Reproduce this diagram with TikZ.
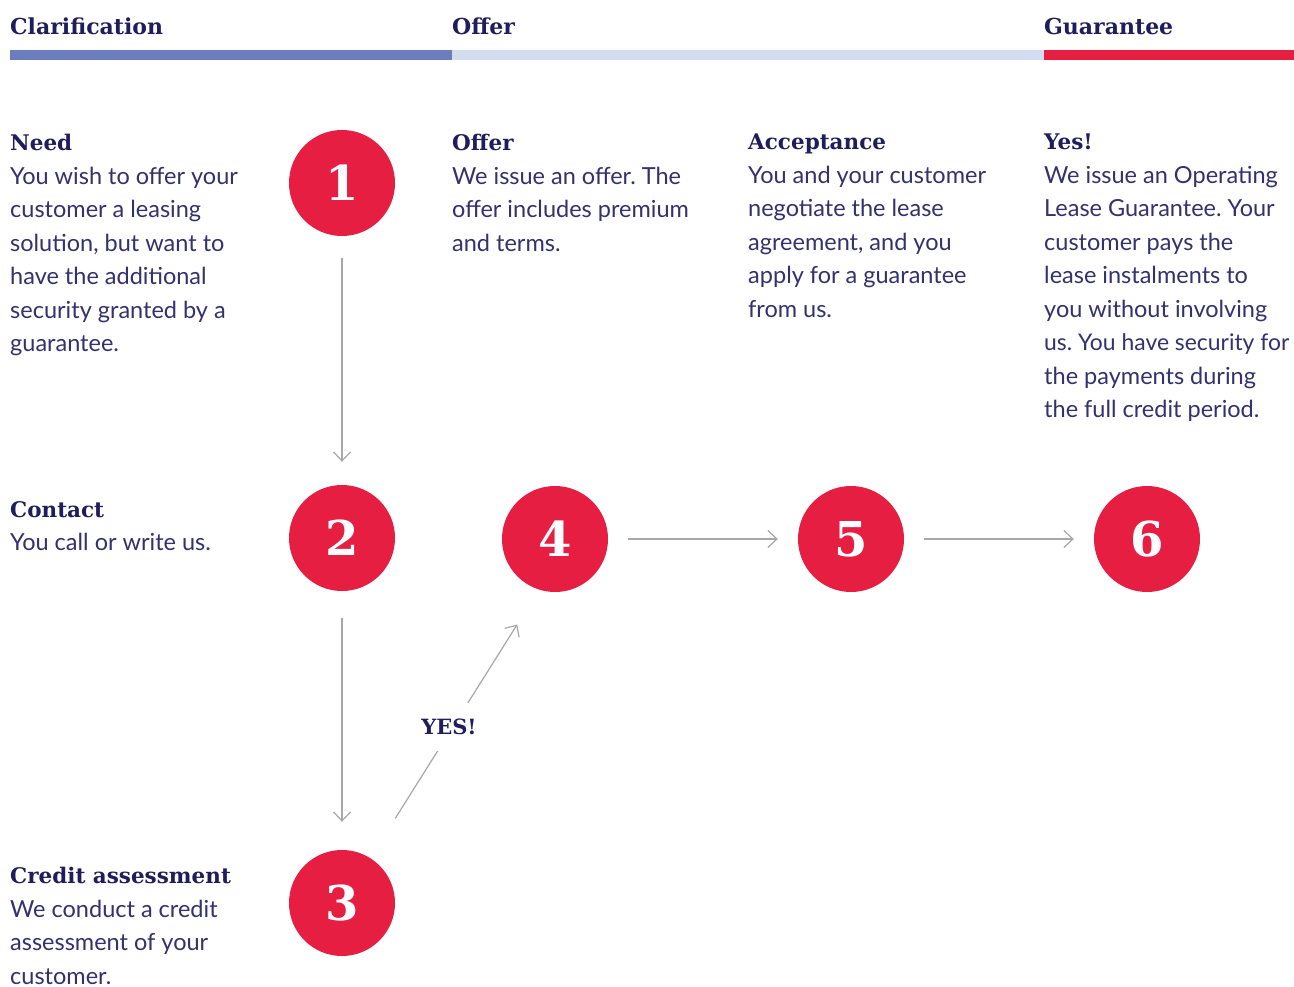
\documentclass[tikz,border=0pt]{standalone}
\usepackage{fontspec}
\usetikzlibrary{arrows.meta}
\newfontfamily\headfont{DejaVu Serif}
\newfontfamily\bodyfont{Lato}
\definecolor{navy}{HTML}{1F1D5C}
\definecolor{bodyblue}{HTML}{34316F}
\definecolor{stepred}{HTML}{E61E42}
\definecolor{barblue}{HTML}{6A7DBD}
\definecolor{barlight}{HTML}{D3DDF0}
\definecolor{linegray}{HTML}{A8A8A8}
\newcommand\blockhead[1]{{\headfont\bfseries\fontsize{21.5}{33.5}\selectfont\color{navy}#1}}
\newcommand\snug[1]{{\fontsize{22.9}{33.5}\selectfont#1}}

\begin{document}
\frenchspacing
\begin{tikzpicture}[x=1pt,y=-1pt,
  phase/.style={anchor=base west, inner sep=0, text=navy,
    font=\headfont\bfseries\fontsize{22}{26}\selectfont},
  block/.style={anchor=north west, inner sep=0, align=left, text=bodyblue,
    font=\bodyfont\fontsize{23.5}{33.5}\selectfont\frenchspacing},
  stepnum/.style={circle, fill=stepred, minimum size=106pt, inner sep=0,
    text=white, font=\headfont\bfseries\fontsize{48}{50}\selectfont},
  flow/.style={draw=linegray, line width=1.2pt,
    -{Straight Barb[length=9pt,width=17pt]}},
  yeslabel/.style={fill=white, inner xsep=4pt, inner ysep=16pt, text=navy,
    font=\headfont\bfseries\fontsize{21}{24}\selectfont},
]
\useasboundingbox (0,0) rectangle (1294,987);
\fill[white] (0,0) rectangle (1294,987);

% phase bar
\node[phase] (ph1) at (10,35) {Clarification};
\node[phase] (ph2) at (452,35) {Offer};
\node[phase] (ph3) at (1044,35) {Guarantee};
\fill[barblue]  (10,50)   rectangle (452,60);
\fill[barlight] (452,50)  rectangle (1044,60);
\fill[stepred]  (1044,50) rectangle (1294,60);

% step descriptions
\node[block] (need) at (10,134) {\blockhead{Need}\\You wish to offer your\\customer a leasing\\solution, but want to\\have the additional\\security granted by a\\guarantee.};
\node[block] (offer) at (452,134) {\blockhead{Offer}\\We issue an offer. The\\offer includes premium\\and terms.};
\node[block] (accept) at (748,134) {\blockhead{Acceptance}\\You and your customer\\negotiate the lease\\agreement, and you\\apply for a guarantee\\from us.};
\node[block] (yes) at (1044,134) {\blockhead{Yes!}\\We issue an Operating\\Lease Guarantee. Your\\customer pays the\\lease instalments to\\you without involving\\\snug{us. You have security for}\\the payments during\\the full credit period.};
\node[block] (contact) at (10,501) {\blockhead{Contact}\\You call or write us.};
\node[block] (credit) at (10,867) {\blockhead{Credit assessment}\\We conduct a credit\\assessment of your\\customer.};

% numbered steps
\node[stepnum] (s1) at (342,183) {1};
\node[stepnum] (s2) at (342,538) {2};
\node[stepnum] (s3) at (342,903) {3};
\node[stepnum] (s4) at (555,539) {4};
\node[stepnum] (s5) at (851,539) {5};
\node[stepnum] (s6) at (1147,539) {6};

% connectors
\draw[flow, shorten <=22pt, shorten >=23pt] (s1) -- (s2);
\draw[flow, shorten <=27pt, shorten >=28pt] (s2) -- (s3);
\draw[flow, shorten <=47pt, shorten >=101pt] (s3) -- ([xshift=16pt]s4.center);
\draw[flow, shorten <=20pt, shorten >=20pt] (s4) -- (s5);
\draw[flow, shorten <=20pt, shorten >=20pt] (s5) -- (s6);
\node[yeslabel] (yeslbl) at (449,727) {YES!};
\end{tikzpicture}
\end{document}
